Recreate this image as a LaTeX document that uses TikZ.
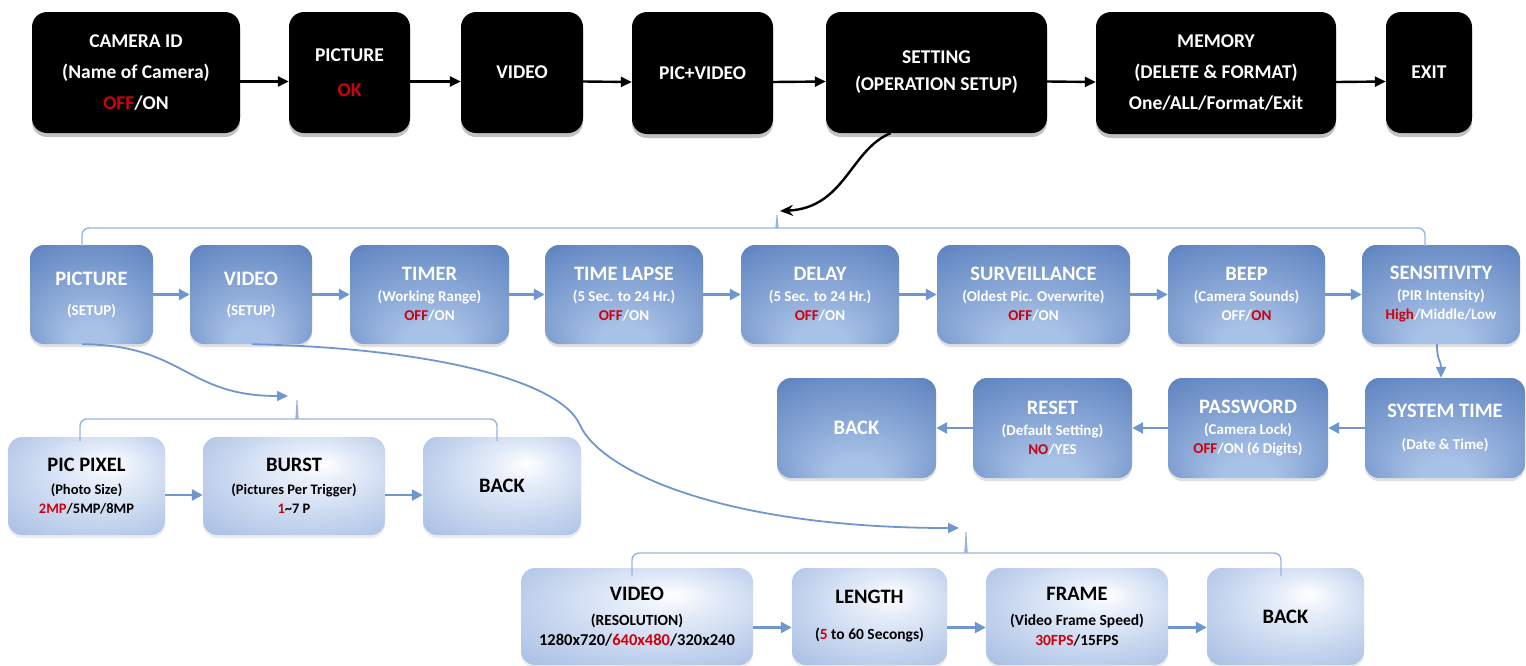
\documentclass[tikz,border=0pt]{standalone}
\usepackage{fontspec}
\setmainfont{Carlito}
\usetikzlibrary{arrows.meta,shadows}

\definecolor{bxd}{RGB}{66,99,155}
\definecolor{bxm}{RGB}{102,138,196}
\definecolor{bxl}{RGB}{168,193,230}
\definecolor{lbd}{RGB}{140,170,218}
\definecolor{lbl}{RGB}{228,236,249}
\definecolor{lnk}{RGB}{112,150,207}
\definecolor{brc}{RGB}{150,180,222}
\definecolor{hotred}{RGB}{208,0,12}

% body shadings of the menu boxes
\pgfdeclareradialshading{bluebox}{\pgfpoint{0bp}{-28bp}}{color(0bp)=(bxl);color(8bp)=(bxl);color(36bp)=(bxm);color(50bp)=(bxd)}
\pgfdeclareradialshading{lightbox}{\pgfpoint{8bp}{12bp}}{color(0bp)=(white);color(10bp)=(lbl);color(52bp)=(lbd)}

\newcommand\fsz[2]{\fontsize{#1}{#2}\selectfont}
\newcommand\hot[1]{\textcolor{hotred}{#1}}
\newcommand\Tl[1]{{\fsz{20.5}{20}#1}}

\tikzset{
  sz/.style 2 args={minimum width=#1pt, minimum height=#2pt},
  topbox/.style={fill=black, rounded corners=15pt, text=white, align=center,
    inner sep=0pt, font=\bfseries\fsz{19.5}{31},
    drop shadow={shadow xshift=0pt, shadow yshift=-4pt, opacity=0.35, fill=black!70}},
  bluebox/.style={shading=bluebox, rounded corners=14pt, text=white, align=center,
    inner sep=0pt, font=\bfseries\fsz{15}{19},
    drop shadow={shadow xshift=0pt, shadow yshift=-3pt, opacity=0.2, fill=black!60}},
  lightbox/.style={shading=lightbox, rounded corners=14pt, text=black, align=center,
    inner sep=0pt, font=\bfseries\fsz{14.5}{19},
    drop shadow={shadow xshift=0pt, shadow yshift=-3pt, opacity=0.15, fill=black!50}},
  blackarrow/.style={draw=black, line width=2.4pt, -{Triangle[length=11pt,width=10pt]}},
  bluearrow/.style={draw=lnk, line width=2.6pt, -{Triangle[length=11pt,width=11pt]}},
  bluecurve/.style={draw=lnk, line width=1.8pt, -{Triangle[length=11pt,width=10pt]}},
  brk/.style={draw=brc, line width=1.4pt, rounded corners=7pt},
}

\begin{document}
\begin{tikzpicture}[x=1pt, y=-1pt]
\useasboundingbox (0,0) rectangle (1526,665);

% main menu
\node[topbox, sz={208}{121}] (cam)    at (136,72.5)   {CAMERA ID\\(Name of Camera)\\\hot{OFF}/ON};
\node[topbox, sz={121}{121}] (pic)    at (349.5,72.5) {PICTURE\\[4pt]\hot{OK}};
\node[topbox, sz={122}{121}] (vid)    at (522,72.5)   {VIDEO};
\node[topbox, sz={141}{122}] (picvid) at (702.5,73)   {PIC+VIDEO};
\node[topbox, sz={221}{121}] (set)    at (936.5,72.5) {SETTING\\[-4pt](OPERATION SETUP)};
\node[topbox, sz={240}{122}] (mem)    at (1216,73)    {MEMORY\\(DELETE \& FORMAT)\\One/ALL/Format/Exit};
\node[topbox, sz={86}{121}]  (exit)   at (1429,72.5)  {EXIT};

\foreach \a/\b in {cam/pic, pic/vid, vid/picvid, picvid/set, set/mem, mem/exit}
  \draw[blackarrow] ([yshift=-9pt]\a.east) -- ([yshift=-9pt]\b.west);

% setting menu
\node[bluebox, sz={123}{99}] (spic)   at (91.5,294.5)  {\Tl{PICTURE}\\[11pt](SETUP)};
\node[bluebox, sz={122}{99}] (svid)   at (251,294.5)   {\Tl{VIDEO}\\[11pt](SETUP)};
\node[bluebox, sz={159}{99}] (timer)  at (429.5,294.5) {\Tl{TIMER}\\[2pt](Working Range)\\\hot{OFF}/ON};
\node[bluebox, sz={158}{99}] (tlapse) at (624,294.5)   {\Tl{TIME LAPSE}\\[2pt](5 Sec. to 24 Hr.)\\\hot{OFF}/ON};
\node[bluebox, sz={158}{99}] (delay)  at (820,294.5)   {\Tl{DELAY}\\[2pt](5 Sec. to 24 Hr.)\\\hot{OFF}/ON};
\node[bluebox, sz={193}{99}] (surv)   at (1033.5,294.5){\Tl{SURVEILLANCE}\\[2pt](Oldest Pic. Overwrite)\\\hot{OFF}/ON};
\node[bluebox, sz={157}{99}] (beep)   at (1246.5,294.5){\Tl{BEEP}\\[2pt](Camera Sounds)\\OFF/\hot{ON}};
\node[bluebox, sz={158}{99}] (sens)   at (1441,294.5)  {\Tl{SENSITIVITY}\\[2pt](PIR Intensity)\\\hot{High}/Middle/Low};

\node[bluebox, sz={159}{100}] (back3)   at (856.5,428)  {\Tl{BACK}};
\node[bluebox, sz={159}{100}] (reset)   at (1052.5,428) {\Tl{RESET}\\[2pt](Default Setting)\\\hot{NO}/YES};
\node[bluebox, sz={160}{100}] (pwd)     at (1248,428)   {\Tl{PASSWORD}\\[2pt](Camera Lock)\\\hot{OFF}/ON (6 Digits)};
\node[bluebox, sz={160}{100}] (systime) at (1445,428)   {\Tl{SYSTEM TIME}\\[13pt](Date \& Time)};

\foreach \a/\b in {spic/svid, svid/timer, timer/tlapse, tlapse/delay, delay/surv, surv/beep, beep/sens,
                   systime/pwd, pwd/reset, reset/back3}
  \draw[bluearrow] (\a) -- (\b);
\draw[bluecurve] ([xshift=-4pt]sens.south) .. controls (1437,362) and (1441,360) .. ([xshift=-4pt]systime.north);

% picture sub-menu
\node[lightbox, sz={157}{98}] (ppix)  at (86.5,486) {\Tl{PIC PIXEL}\\[4pt](Photo Size)\\\hot{2MP}/5MP/8MP};
\node[lightbox, sz={182}{98}] (burst) at (294,486)  {\Tl{BURST}\\[4pt](Pictures Per Trigger)\\\hot{1}\textasciitilde7 P};
\node[lightbox, sz={158}{98}] (back5) at (502,486)  {\Tl{BACK}};
\draw[bluearrow] ([yshift=-9pt]ppix.east) -- ([yshift=-9pt]burst.west);
\draw[bluearrow] ([yshift=-9pt]burst.east) -- ([yshift=-9pt]back5.west);

% video sub-menu
\node[lightbox, sz={232}{97}, font=\bfseries\fsz{15.5}{20}] (vres)  at (637,616.5)
  {\Tl{VIDEO}\\[5pt](RESOLUTION)\\{\fsz{16.5}{20}1280x720/\hot{640x480}/320x240}};
\node[lightbox, sz={155}{97}, font=\bfseries\fsz{15.5}{20}] (len)   at (869.5,616.5)
  {\Tl{LENGTH}\\[16pt](\hot{5} to 60 Secongs)};
\node[lightbox, sz={182}{97}, font=\bfseries\fsz{15.5}{20}] (frame) at (1077,616.5)
  {\Tl{FRAME}\\[5pt](Video Frame Speed)\\\hot{30FPS}/15FPS};
\node[lightbox, sz={157}{97}, font=\bfseries\fsz{15.5}{20}] (back4) at (1285.5,616.5) {\Tl{BACK}};
\foreach \a/\b in {vres/len, len/frame, frame/back4}
  \draw[bluearrow] ([yshift=-11pt]\a.east) -- ([yshift=-11pt]\b.west);

% group brackets
\coordinate (tipset) at (777,211);
\coordinate (tippic) at (297,396);
\coordinate (tipvid) at (966,528);
\draw[brk] (82,246) -- (82,228) -- (770,228) .. controls (775,228) and (777,222) .. (tipset)
  .. controls (777,222) and (779,228) .. (784,228) -- (1425,228) -- (1425,246);
\draw[brk] (80,441) -- (80,419) -- (290,419) .. controls (295,419) and (297,412) .. (tippic)
  .. controls (297,412) and (299,419) .. (304,419) -- (497,419) -- (497,441);
\draw[brk] (632,576) -- (632,553) -- (959,553) .. controls (964,553) and (966,545) .. (tipvid)
  .. controls (966,545) and (968,553) .. (973,553) -- (1281,553) -- (1281,576);

% links into the sub-menus
\draw[draw=black, line width=2.4pt, -{Stealth[length=13pt,width=11pt]}]
  ([xshift=-46pt]set.south) .. controls (850,150) and (845,208) .. ([xshift=3pt]tipset);
\draw[bluecurve] ([xshift=-9.5pt]spic.south) .. controls (185,345) and (185,396) .. ([xshift=-9pt]tippic);
\draw[bluecurve] ([xshift=1pt]svid.south) .. controls (430,348) and (560,380) .. (580,425)
  .. controls (600,470) and (720,528) .. ([xshift=-7pt]tipvid);
\end{tikzpicture}
\end{document}
